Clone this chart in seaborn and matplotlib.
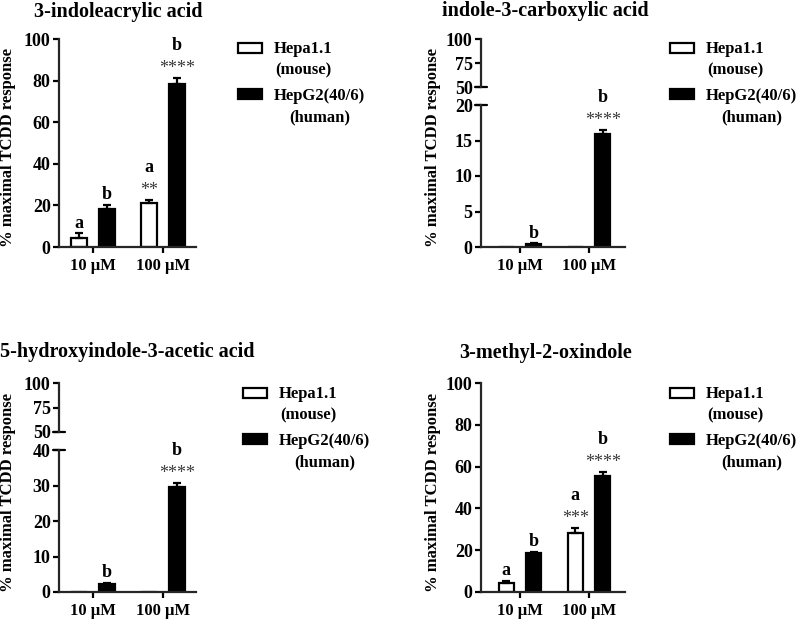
import matplotlib
matplotlib.use("Agg")
import matplotlib.pyplot as plt
import seaborn as sns
import pandas as pd
from matplotlib.patches import Patch, Rectangle
from matplotlib.legend_handler import HandlerPatch

concs = ["10 µM", "100 µM"]
cells = ["Hepa1.1", "HepG2(40/6)"]
legend_labels = ["Hepa1.1\n(mouse)", "HepG2(40/6)\n(human)"]

# 3-indoleacrylic acid
iacr_hepa = [4.2, 21.0]
iacr_hepa_sem = [2.3, 1.6]
iacr_hepg2 = [18.1, 78.4]
iacr_hepg2_sem = [2.2, 3.0]
iacr_letters_hepa = ["a", "a"]
iacr_letters_hepg2 = ["b", "b"]
iacr_stars_hepa = ["", "**"]
iacr_stars_hepg2 = ["", "****"]

# indole-3-carboxylic acid
ica_hepa = [0.0, 0.0]
ica_hepa_sem = [0.0, 0.0]
ica_hepg2 = [0.4, 15.9]
ica_hepg2_sem = [0.15, 0.6]
ica_letters_hepa = ["", ""]
ica_letters_hepg2 = ["b", "b"]
ica_stars_hepa = ["", ""]
ica_stars_hepg2 = ["", "****"]

# 5-hydroxyindole-3-acetic acid
hiaa_hepa = [0.0, 0.0]
hiaa_hepa_sem = [0.0, 0.0]
hiaa_hepg2 = [2.3, 29.6]
hiaa_hepg2_sem = [0.3, 1.1]
hiaa_letters_hepa = ["", ""]
hiaa_letters_hepg2 = ["b", "b"]
hiaa_stars_hepa = ["", ""]
hiaa_stars_hepg2 = ["", "****"]

# 3-methyl-2-oxindole
mox_hepa = [4.2, 28.2]
mox_hepa_sem = [1.2, 2.4]
mox_hepg2 = [18.7, 55.7]
mox_hepg2_sem = [0.6, 1.7]
mox_letters_hepa = ["a", "a"]
mox_letters_hepg2 = ["b", "b"]
mox_stars_hepa = ["", "***"]
mox_stars_hepg2 = ["", "****"]

sns.set_theme(style="ticks")
plt.rcParams["font.family"] = ["Liberation Serif", "DejaVu Serif"]
plt.rcParams["font.weight"] = "bold"
plt.rcParams["axes.linewidth"] = 1.6
plt.rcParams["text.color"] = "black"
plt.rcParams["xtick.color"] = "black"
plt.rcParams["ytick.color"] = "black"

W, H = 800, 619
fig = plt.figure(figsize=(8, 6.19), dpi=100)


def px_axes(left, right, top, bottom):
    return fig.add_axes([left / W, 1 - bottom / H, (right - left) / W, (bottom - top) / H])


def style_axis(ax, ticks, xlim):
    sns.despine(ax=ax)
    ax.set_ylim(ticks[0], ticks[-1])
    ax.set_yticks(ticks)
    ax.set_xlim(*xlim)
    ax.tick_params(axis="both", width=1.6, length=4.5)
    ax.tick_params(axis="y", labelsize=13, pad=1.5)
    ax.tick_params(axis="x", labelsize=12, pad=3.5)
    ax.set_xlabel("")
    ax.set_ylabel("")


def draw_bars(ax, hepa, hepa_sem, hepg2, hepg2_sem, letters, stars):
    df = pd.DataFrame({
        "conc": concs * 2,
        "cell": [cells[0]] * 2 + [cells[1]] * 2,
        "value": hepa + hepg2,
    })
    sns.barplot(data=df, x="conc", y="value", hue="cell", hue_order=cells,
                palette=["white", "black"], saturation=1, edgecolor="black",
                linewidth=1.6, width=0.8, gap=0.45, errorbar=None,
                legend=False, ax=ax)
    sems = [hepa_sem, hepg2_sem]
    bar_conts = list(ax.containers)
    for i, cont in enumerate(bar_conts):
        for j, bar in enumerate(cont.patches):
            x = bar.get_x() + bar.get_width() / 2
            h = bar.get_height()
            e = sems[i][j]
            if e > 0:
                ax.errorbar(x, h, yerr=[[0], [e]], fmt="none", ecolor="black",
                            elinewidth=1.6, capsize=3.2, capthick=1.6, clip_on=False)
            top = h + e
            if stars[i][j]:
                ax.annotate(stars[i][j], (x, top), xytext=(0, 3.5), textcoords="offset points",
                            ha="center", va="baseline", fontsize=13, fontweight="normal",
                            color="#3a3a3a", annotation_clip=False)
                ax.annotate(letters[i][j], (x, top), xytext=(0, 20), textcoords="offset points",
                            ha="center", va="baseline", fontsize=13, annotation_clip=False)
            elif letters[i][j]:
                ax.annotate(letters[i][j], (x, top), xytext=(0, 4), textcoords="offset points",
                            ha="center", va="baseline", fontsize=13, annotation_clip=False)


def top_box(legend, orig_handle, xdescent, ydescent, width, height, fontsize):
    # keep the legend box level with the first line of a two-line label
    return Rectangle((-xdescent, -ydescent + 0.72 * fontsize), width, height)


def add_legend(ax, x, y):
    handles = [Patch(facecolor="white", edgecolor="black", linewidth=1.6),
               Patch(facecolor="black", edgecolor="black", linewidth=1.6)]
    leg = ax.legend(handles, legend_labels, loc="upper left",
                    bbox_to_anchor=(x / W, 1 - y / H), bbox_transform=fig.transFigure,
                    frameon=False, fontsize=12, handlelength=1.45, handleheight=0.55,
                    handletextpad=0.7, labelspacing=0.55, borderpad=0, borderaxespad=0,
                    handler_map={Patch: HandlerPatch(patch_func=top_box)})
    for t in leg.get_texts():
        t.set_multialignment("center")
        t.set_linespacing(1.45)


def broken_panel(left, right, top_hi, bot_hi, top_lo, bot_lo, low_ticks, xlim, bars):
    ax_hi = px_axes(left, right, top_hi, bot_hi)
    ax_lo = px_axes(left, right, top_lo, bot_lo)
    draw_bars(ax_lo, *bars)
    style_axis(ax_lo, low_ticks, xlim)
    style_axis(ax_hi, [50, 75, 100], xlim)
    ax_hi.spines["bottom"].set_visible(False)
    ax_hi.set_xticks([])
    # break marks on the y axis
    d = 6.0 / (right - left)
    ax_hi.plot([-d, d], [0, 0], transform=ax_hi.transAxes, color="black", lw=1.6, clip_on=False)
    ax_lo.plot([-d, d], [1, 1], transform=ax_lo.transAxes, color="black", lw=1.6, clip_on=False)
    return ax_lo


ylabel = "% maximal TCDD response"
xlim_left = (-0.486, 1.47)
xlim_right = (-0.565, 1.52)

# panel 1
ax1 = px_axes(59, 196, 39, 247)
draw_bars(ax1, iacr_hepa, iacr_hepa_sem, iacr_hepg2, iacr_hepg2_sem,
          [iacr_letters_hepa, iacr_letters_hepg2], [iacr_stars_hepa, iacr_stars_hepg2])
style_axis(ax1, [0, 20, 40, 60, 80, 100], xlim_left)
add_legend(ax1, 238, 41)
fig.text(118 / W, 1 - 12 / H, "3-indoleacrylic acid", ha="center", va="center", fontsize=14.5)
fig.text(8 / W, 1 - 147 / H, ylabel, rotation=90, ha="center", va="center", fontsize=12)

# panel 2
ax2 = broken_panel(481, 625, 39, 87, 105, 247, [0, 5, 10, 15, 20], xlim_right,
                   (ica_hepa, ica_hepa_sem, ica_hepg2, ica_hepg2_sem,
                    [ica_letters_hepa, ica_letters_hepg2], [ica_stars_hepa, ica_stars_hepg2]))
add_legend(ax2, 670, 41)
fig.text(545 / W, 1 - 11 / H, "indole-3-carboxylic acid", ha="center", va="center", fontsize=14.5)
fig.text(433 / W, 1 - 147 / H, ylabel, rotation=90, ha="center", va="center", fontsize=12)

# panel 3
ax3 = broken_panel(59, 196, 383, 432, 450, 592, [0, 10, 20, 30, 40], xlim_left,
                   (hiaa_hepa, hiaa_hepa_sem, hiaa_hepg2, hiaa_hepg2_sem,
                    [hiaa_letters_hepa, hiaa_letters_hepg2], [hiaa_stars_hepa, hiaa_stars_hepg2]))
add_legend(ax3, 243, 386)
fig.text(127 / W, 1 - 352 / H, "5-hydroxyindole-3-acetic acid", ha="center", va="center", fontsize=14.5)
fig.text(8 / W, 1 - 492 / H, ylabel, rotation=90, ha="center", va="center", fontsize=12)

# panel 4
ax4 = px_axes(481, 625, 383, 592)
draw_bars(ax4, mox_hepa, mox_hepa_sem, mox_hepg2, mox_hepg2_sem,
          [mox_letters_hepa, mox_letters_hepg2], [mox_stars_hepa, mox_stars_hepg2])
style_axis(ax4, [0, 20, 40, 60, 80, 100], xlim_right)
add_legend(ax4, 670, 386)
fig.text(546 / W, 1 - 353 / H, "3-methyl-2-oxindole", ha="center", va="center", fontsize=14.5)
fig.text(433 / W, 1 - 492 / H, ylabel, rotation=90, ha="center", va="center", fontsize=12)

fig.savefig("out.png", dpi=100)
